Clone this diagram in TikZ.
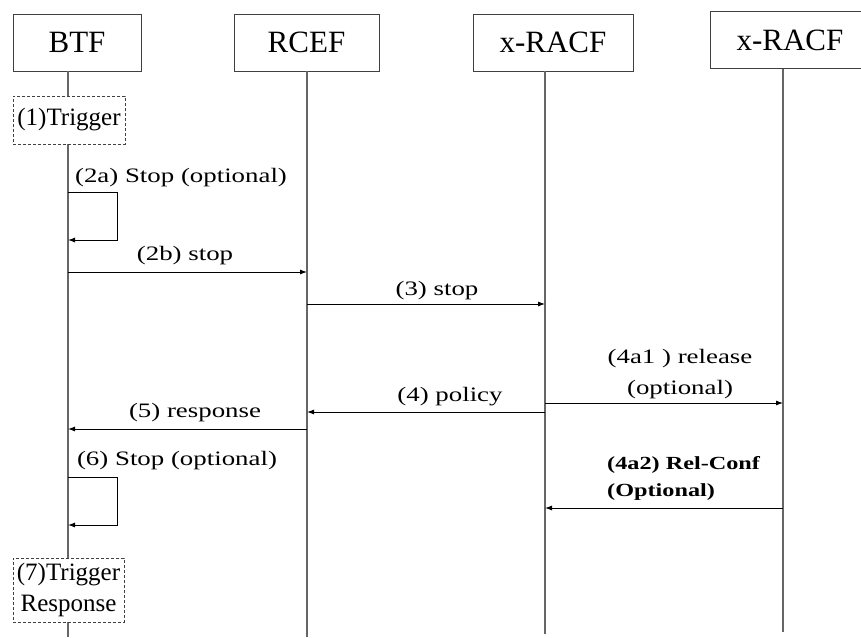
\documentclass[tikz,border=0pt]{standalone}
\usepackage{fontspec}
\setmainfont{Liberation Serif}
\newfontfamily\lblfont{Liberation Serif}[FakeStretch=1.31]
\usetikzlibrary{arrows.meta}

\tikzset{
  head/.style={draw=black!75, line width=0.9pt, minimum height=57pt, inner sep=0pt, font=\fontsize{31}{36}\selectfont},
  life/.style={draw=black!60, line width=1.2pt},
  trig/.style={draw=black!75, dash pattern={on 3pt off 2pt}, line width=0.8pt, fill=white, inner sep=0pt, align=center, font=\fontsize{25}{31}\selectfont},
  msg/.style={line width=0.9pt, -{Latex[length=7pt,width=5pt]}},
  lbl/.style={font=\lblfont\fontsize{20.5}{31}\selectfont, inner sep=0pt},
  blbl/.style={font=\lblfont\bfseries\fontsize{18.5}{27}\selectfont, inner sep=0pt, align=left}
}

\begin{document}
\begin{tikzpicture}[x=1pt,y=1pt,yscale=-1,xscale=1]
\useasboundingbox (0,0) rectangle (861,637);

% Header boxes
\node[head, minimum width=128pt] (btf) at (77,42.5) {BTF};
\node[head, minimum width=145pt] (rcef) at (306.5,42.5) {RCEF};
\node[head, minimum width=160pt] (racfa) at (553,42.5) {x-RACF};
\node[head, minimum width=160pt] (racfb) at (790,40) {x-RACF};

% Lifelines
\coordinate (lbtf) at (68,637);
\coordinate (lrcef) at (307,637);
\coordinate (lracfa) at (545,634);
\coordinate (lracfb) at (783,632);
\draw[life] (btf.south -| lbtf) -- (lbtf);
\draw[life] (rcef.south -| lrcef) -- (lrcef);
\draw[life] (racfa.south -| lracfa) -- (lracfa);
\draw[life] (racfb.south -| lracfb) -- (lracfb);

% Trigger boxes
\node[trig, minimum width=112pt, minimum height=48pt] (trg1) at (69,120) {(1)Trigger};
\node[trig, minimum width=111pt, minimum height=64pt] (trg7) at (68.5,590) {(7)Trigger\\Response};

%Straight Lines (2a) self loop
\coordinate (s2a) at (68,192);
\coordinate (e2a) at (68,240);
\draw[msg] (s2a) -- ++(49,0) |- (e2a);
\draw (181,178) node[lbl] (l2a) {(2a) Stop (optional)};

%Straight Lines (2b)
\coordinate (s2b) at (68,272);
\coordinate (e2b) at (307,272);
\draw[msg] (s2b) -- (e2b);
\draw (185,256) node[lbl] (l2b) {(2b) stop};

%Straight Lines (3)
\coordinate (s3) at (307,304);
\coordinate (e3) at (545,304);
\draw[msg] (s3) -- (e3);
\draw (437,291) node[lbl] (l3) {(3) stop};

%Straight Lines (4a1)
\coordinate (s4a1) at (545,403);
\coordinate (e4a1) at (783,403);
\draw[msg] (s4a1) -- (e4a1);
\draw (680,374) node[lbl, align=center] (l4a1) {(4a1 ) release\\(optional)};

%Straight Lines (4)
\coordinate (s4) at (545,412);
\coordinate (e4) at (307,412);
\draw[msg] (s4) -- (e4);
\draw (450,397) node[lbl] (l4) {(4) policy};

%Straight Lines (5)
\coordinate (s5) at (307,429);
\coordinate (e5) at (68,429);
\draw[msg] (s5) -- (e5);
\draw (195,413) node[lbl] (l5) {(5) response};

%Straight Lines (6) self loop
\coordinate (s6) at (68,477);
\coordinate (e6) at (68,525);
\draw[msg] (s6) -- ++(49,0) |- (e6);
\draw (177,461) node[lbl] (l6) {(6) Stop (optional)};

%Straight Lines (4a2)
\coordinate (s4a2) at (783,508);
\coordinate (e4a2) at (545,508);
\draw[msg] (s4a2) -- (e4a2);
\draw (607,478.5) node[blbl, anchor=west] (l4a2) {(4a2) Rel-Conf\\(Optional)};

\end{tikzpicture}
\end{document}
